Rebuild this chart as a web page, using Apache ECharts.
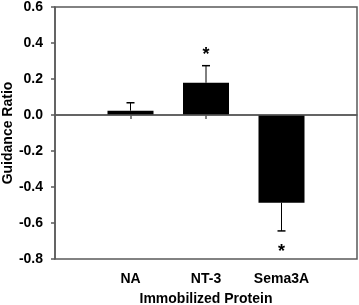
<!DOCTYPE html>
<html><head><meta charset="utf-8">
<script src="https://cdn.jsdelivr.net/npm/echarts@6/dist/echarts.min.js"></script>
<style>html,body{margin:0;padding:0;background:#fff}#c{width:359px;height:305px}</style>
</head><body><div id="c"></div>
<script>
const categories = ['', 'NA', 'NT-3', 'Sema3A', ''];
const values = [null, 0.024, 0.179, -0.487, null];
const errors = [null, 0.044, 0.095, 0.157, null];
const sigLabels = [null, null, '*', '*', null];
const sigPositions = [null, null, 0.357, -0.74, null];
const yTicks = { min: -0.8, max: 0.6, interval: 0.2 };

const font = 'Liberation Sans, Arial, sans-serif';
const axisCol = '#5a5a5a';

const errData = [];
const sigData = [];
values.forEach((v, i) => {
  if (v !== null) errData.push([i, v, v + Math.sign(v) * errors[i]]);
  if (sigLabels[i]) sigData.push([i, sigPositions[i], sigLabels[i]]);
});

const chart = echarts.init(document.getElementById('c'), null, {renderer: 'canvas'});
chart.setOption({
  animation: false,
  grid: { left: 55, right: 2, top: 7, bottom: 46, containLabel: false, outerBoundsMode: 'none', show: true, borderColor: axisCol, borderWidth: 1.5, backgroundColor: 'transparent' },
  xAxis: {
    type: 'category', data: categories, boundaryGap: false,
    axisLine: { lineStyle: { color: axisCol, width: 1.5 } },
    axisTick: { show: true, length: 4, lineStyle: { color: axisCol, width: 1.5 }, interval: (i) => i >= 1 && i <= 3, alignWithLabel: true },
    axisLabel: { color: '#000', fontFamily: font, fontWeight: 'bold', fontSize: 14, margin: 13, interval: (i) => i >= 1 && i <= 3 },
    name: 'Immobilized Protein', nameLocation: 'middle', nameGap: 33, nameMoveOverlap: false,
    nameTextStyle: { color: '#000', fontFamily: font, fontWeight: 'bold', fontSize: 14 },
    splitLine: { show: false }
  },
  yAxis: {
    type: 'value', min: yTicks.min, max: yTicks.max, interval: yTicks.interval,
    axisLine: { show: true, lineStyle: { color: axisCol, width: 1.5 } },
    axisTick: { show: true, length: 4, lineStyle: { color: axisCol, width: 1.5 } },
    axisLabel: { color: '#000', fontFamily: font, fontWeight: 'bold', fontSize: 14, margin: 12, formatter: (v) => v.toFixed(1) },
    splitLine: { show: false },
    name: 'Guidance Ratio', nameLocation: 'middle', nameGap: 40, nameMoveOverlap: false,
    nameTextStyle: { color: '#000', fontFamily: font, fontWeight: 'bold', fontSize: 14 }
  },
  series: [
    {
      type: 'bar', data: values, barWidth: 46,
      itemStyle: { color: '#000' },
      markLine: { silent: true, symbol: 'none', label: { show: false },
        lineStyle: { color: axisCol, width: 1.5, type: 'solid' }, data: [{ yAxis: 0 }] },
      z: 2
    },
    {
      type: 'custom', data: errData, z: 3,
      renderItem: (params, api) => {
        const x = api.value(0);
        const p0 = api.coord([x, api.value(1)]);
        const p1 = api.coord([x, api.value(2)]);
        const cw = 4;
        return { type: 'group', children: [
          { type: 'line', shape: { x1: p0[0], y1: p0[1], x2: p1[0], y2: p1[1] }, style: { stroke: '#000', lineWidth: 1 } },
          { type: 'line', shape: { x1: p1[0] - cw, y1: p1[1], x2: p1[0] + cw, y2: p1[1] }, style: { stroke: '#000', lineWidth: 1.5 } }
        ]};
      }
    },
    {
      type: 'custom', data: sigData, z: 3,
      renderItem: (params, api) => {
        const p = api.coord([api.value(0), api.value(1)]);
        return { type: 'text', x: p[0], y: p[1] + 4, style: { text: sigLabels[api.value(0)], fill: '#000', font: 'bold 18px ' + font, align: 'center', verticalAlign: 'middle' } };
      }
    }
  ]
});
</script>
</body></html>
